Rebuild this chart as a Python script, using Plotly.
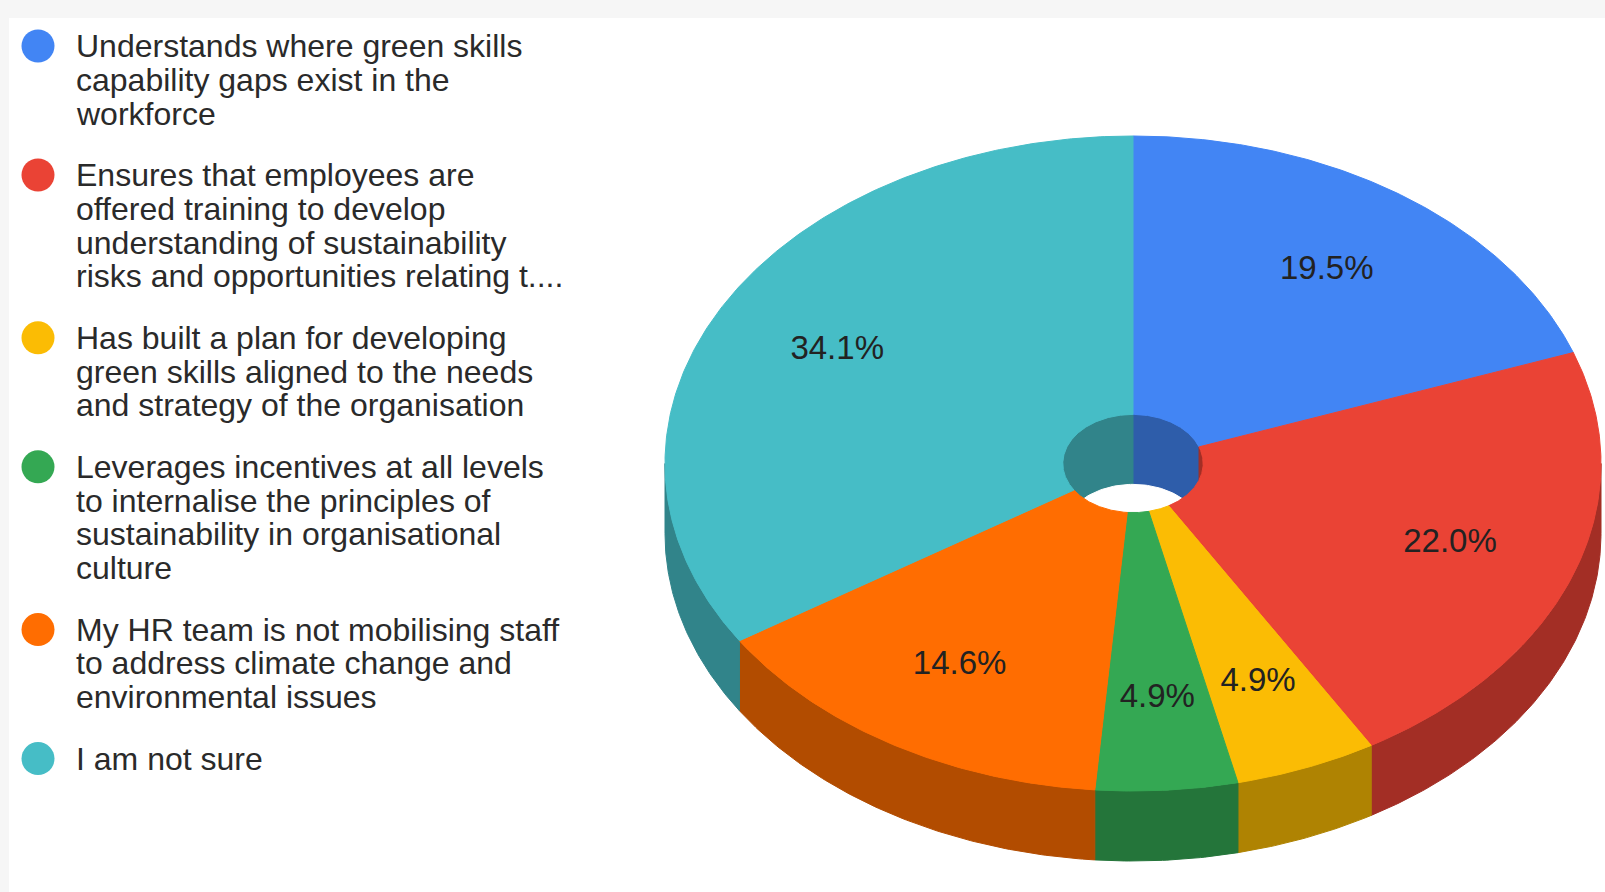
import numpy as np
import plotly.graph_objects as go

# ---- data -------------------------------------------------------------
legend_labels = [
    ["Understands where green skills", "capability gaps exist in the", "workforce"],
    ["Ensures that employees are", "offered training to develop",
     "understanding of sustainability", "risks and opportunities relating t...."],
    ["Has built a plan for developing", "green skills aligned to the needs",
     "and strategy of the organisation"],
    ["Leverages incentives at all levels", "to internalise the principles of",
     "sustainability in organisational", "culture"],
    ["My HR team is not mobilising staff", "to address climate change and",
     "environmental issues"],
    ["I am not sure"],
]
shares = [19.5, 22.0, 4.9, 4.9, 14.6, 34.1]
slice_colors = ["#4285F4", "#EA4335", "#FBBC04", "#34A853", "#FF6D01", "#46BDC6"]

# ---- layout constants (pixels) ----------------------------------------
W, H = 1605, 892
CX, CY = 1133, 463.5          # centre of the top face
RX, RY = 468, 327.5           # radii of the tilted disc
DEPTH = 70                    # thickness of the disc
HOLE = 0.15                   # inner radius as a fraction of the outer one
LABEL_R = 0.72
FONT = "Liberation Sans, Arial, sans-serif"
LABEL_SIZE = 33
LEGEND_SIZE = 32

LEG_DOT_X, LEG_TEXT_X = 38, 74
LEG_TOP, LEG_LINE, LEG_GAP = 46, 33.8, 61.4


def shade(hex_color, k=0.7):
    h = hex_color.lstrip("#")
    r, g, b = (int(h[i:i + 2], 16) for i in (0, 2, 4))
    return "#{:02X}{:02X}{:02X}".format(int(r * k), int(g * k), int(b * k))


def arc(t0, t1, scale, dy=0.0, n=None):
    if n is None:
        n = max(4, int(abs(t1 - t0) * 2))
    t = np.radians(np.linspace(t0, t1, n))
    return CX + RX * scale * np.sin(t), CY - RY * scale * np.cos(t) + dy


def overlap(a0, a1, b0, b1):
    lo, hi = max(a0, b0), min(a1, b1)
    return (lo, hi) if hi > lo else None


def poly_trace(xs, ys, color):
    return go.Scatter(
        x=np.append(xs, xs[0]), y=np.append(ys, ys[0]),
        mode="lines", fill="toself", fillcolor=color,
        line=dict(color=color, width=1), hoverinfo="skip", showlegend=False,
    )


# slice boundaries, clockwise from 12 o'clock
ends = np.cumsum(shares) / sum(shares) * 360.0
starts = np.concatenate([[0.0], ends[:-1]])

fig = go.Figure()

# outer side wall (front half of the disc)
for s, e, c in zip(starts, ends, slice_colors):
    ov = overlap(s, e, 90, 270)
    if ov:
        x1, y1 = arc(ov[0], ov[1], 1.0)
        x2, y2 = arc(ov[1], ov[0], 1.0, DEPTH)
        fig.add_trace(poly_trace(np.concatenate([x1, x2]), np.concatenate([y1, y2]), shade(c)))

# inner wall of the hole (back half)
for s, e, c in zip(starts, ends, slice_colors):
    for b0, b1 in ((0, 90), (270, 360)):
        ov = overlap(s, e, b0, b1)
        if ov:
            x1, y1 = arc(ov[0], ov[1], HOLE)
            x2, y2 = arc(ov[1], ov[0], HOLE, DEPTH)
            fig.add_trace(poly_trace(np.concatenate([x1, x2]), np.concatenate([y1, y2]), shade(c)))

# see-through opening at the bottom of the hole
hx, hy = arc(0, 360, HOLE, DEPTH, 181)
fig.add_trace(poly_trace(hx, hy, "#FFFFFF"))

# top faces
for s, e, c in zip(starts, ends, slice_colors):
    xo, yo = arc(s, e, 1.0)
    xi, yi = arc(e, s, HOLE)
    fig.add_trace(poly_trace(np.concatenate([xo, xi]), np.concatenate([yo, yi]), c))

# percentage labels
mids = np.radians((starts + ends) / 2)
fig.add_trace(go.Scatter(
    x=CX + RX * LABEL_R * np.sin(mids),
    y=CY - RY * LABEL_R * np.cos(mids),
    mode="text",
    text=[f"{v:.1f}%" for v in shares],
    textfont=dict(family=FONT, size=LABEL_SIZE, color="#222222"),
    hoverinfo="skip", showlegend=False,
))

# legend: coloured dots and wrapped labels
annotations = []
dot_y = []
y = LEG_TOP
for lines in legend_labels:
    dot_y.append(y)
    for i, line in enumerate(lines):
        annotations.append(dict(
            x=LEG_TEXT_X, y=y + i * LEG_LINE, xref="x", yref="y",
            text=line, showarrow=False, xanchor="left", yanchor="middle",
            font=dict(family=FONT, size=LEGEND_SIZE, color="#2A2A2A"),
        ))
    y += (len(lines) - 1) * LEG_LINE + LEG_GAP

fig.add_trace(go.Scatter(
    x=[LEG_DOT_X] * len(dot_y), y=dot_y, mode="markers",
    marker=dict(size=33, color=slice_colors, line=dict(width=0)),
    hoverinfo="skip", showlegend=False,
))

fig.update_layout(
    width=W, height=H, autosize=False,
    margin=dict(l=0, r=0, t=0, b=0),
    paper_bgcolor="#FFFFFF", plot_bgcolor="#FFFFFF",
    xaxis=dict(range=[0, W], visible=False, fixedrange=True),
    yaxis=dict(range=[H, 0], visible=False, fixedrange=True),
    annotations=annotations,
    shapes=[
        dict(type="rect", xref="x", yref="y", x0=0, x1=W, y0=0, y1=18,
             fillcolor="#F6F6F6", line=dict(width=0), layer="below"),
        dict(type="rect", xref="x", yref="y", x0=0, x1=9, y0=0, y1=H,
             fillcolor="#F6F6F6", line=dict(width=0), layer="below"),
    ],
    showlegend=False,
)

fig.write_html("out.html")
